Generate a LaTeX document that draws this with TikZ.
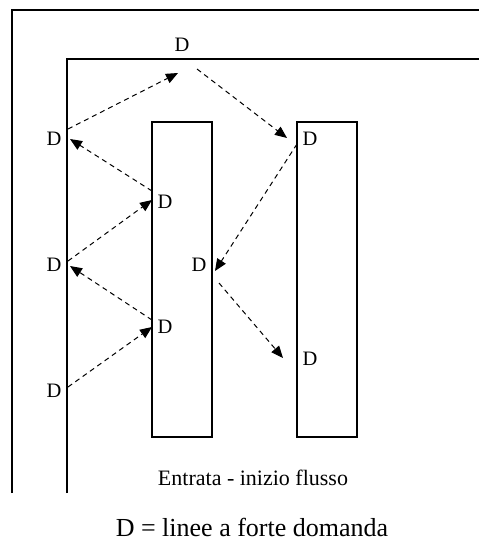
\documentclass[tikz,border=0pt]{standalone}
\usepackage{fontspec}
\setmainfont{Liberation Serif}
\usetikzlibrary{arrows.meta}
\begin{document}
\begin{tikzpicture}[x=1pt,y=-1pt,
  wall/.style={line width=1.6pt},
  shelf/.style={line width=1.3pt},
  dlab/.style={inner sep=0pt,font=\fontsize{20.5}{24}\selectfont},
  flow/.style={dashed,dash pattern=on 5pt off 4pt,line width=1pt,-{Triangle[length=12pt,width=10pt]}}]
\useasboundingbox (0,0) rectangle (479,542);
% walls
\draw[wall] (12,493) -- (12,10) -- (479,10);
\draw[wall] (67,493) -- (67,59) -- (479,59);
% shelves
\draw[shelf] (152,122) rectangle (212,437);
\draw[shelf] (297,122) rectangle (357,437);
% labels
\node[dlab] (T) at (182,45) {D};
\node[dlab] (L1) at (54,139) {D};
\node[dlab] (L2) at (54,265) {D};
\node[dlab] (L3) at (54,391) {D};
\node[dlab] (R1u) at (165,202) {D};
\node[dlab] (R1l) at (165,327) {D};
\node[dlab] (M) at (199,265) {D};
\node[dlab] (R2u) at (310,139) {D};
\node[dlab] (R2l) at (310,359) {D};
\node[inner sep=0pt,font=\fontsize{22}{26}\selectfont] (entr) at (253,478) {Entrata - inizio flusso};
\node[inner sep=0pt,text depth=0pt,anchor=base,font=\fontsize{26}{30}\selectfont] (leg) at (252,536) {D = linee a forte domanda};
% endpoints
\coordinate (L1s) at (68,129);
\coordinate (Tin) at (178,73);
\coordinate (Ts) at (197,69);
\coordinate (R2uin) at (287,138);
\coordinate (R1us) at (152,191);
\coordinate (L1in) at (70,139);
\coordinate (L2s) at (68,261);
\coordinate (R1uin) at (152,200);
\coordinate (R1ls) at (152,320);
\coordinate (L2in) at (70,266);
\coordinate (L3s) at (68,387);
\coordinate (R1lin) at (152,327);
\coordinate (R2us) at (297,144);
\coordinate (Min) at (215,271);
\coordinate (Ms) at (219,283);
\coordinate (R2lin) at (283,358);
% flows
\draw[flow] (L1s) -- (Tin);
\draw[flow] (Ts) -- (R2uin);
\draw[flow] (R1us) -- (L1in);
\draw[flow] (L2s) -- (R1uin);
\draw[flow] (R1ls) -- (L2in);
\draw[flow] (L3s) -- (R1lin);
\draw[flow] (R2us) -- (Min);
\draw[flow] (Ms) -- (R2lin);
\end{tikzpicture}
\end{document}
